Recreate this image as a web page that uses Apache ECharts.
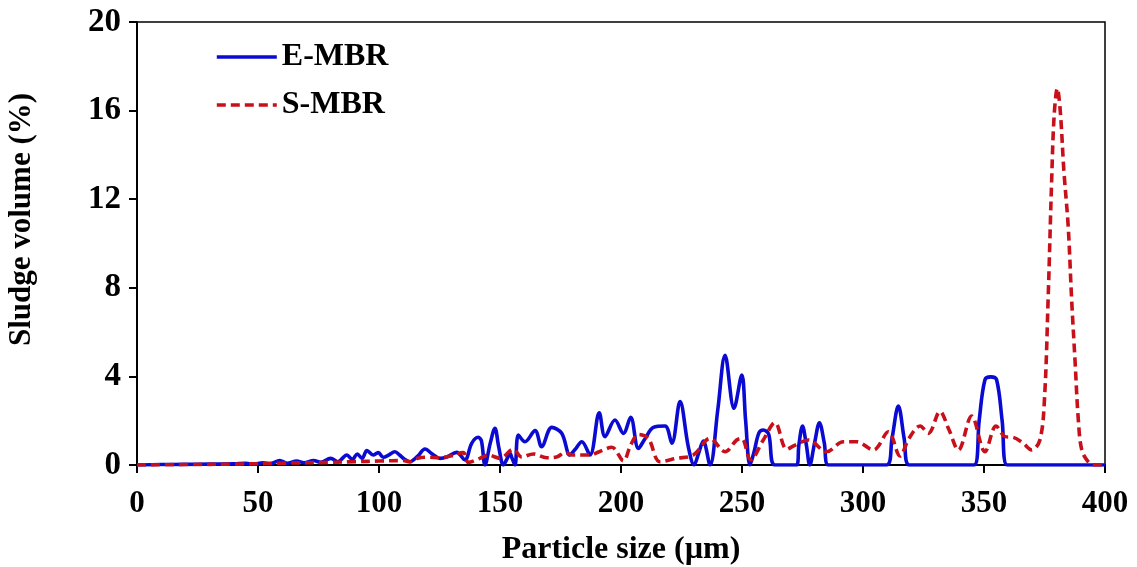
<!DOCTYPE html>
<html>
<head>
<meta charset="utf-8">
<script src="https://cdn.jsdelivr.net/npm/echarts@6/dist/echarts.min.js"></script>
<style>html,body{margin:0;padding:0;background:#fff;}#c{width:1137px;height:567px;}</style>
</head>
<body>
<div id="c"></div>
<script>
const xTicks = [0, 50, 100, 150, 200, 250, 300, 350, 400];
const yTicks = [0, 4, 8, 12, 16, 20];
const seriesNames = ['E-MBR', 'S-MBR'];
const eMBR = [
[0,0],[10,0.02],[20,0.03],[30,0.04],[40,0.05],[45,0.08],[48,0.04],[52,0.1],[55,0.06],[59,0.2],[62,0.08],[66,0.18],[69,0.1],[73,0.2],[76,0.12],[80,0.3],[83,0.15],[86.7,0.45],[89,0.25],[91,0.5],[93,0.3],[95,0.65],[97.6,0.45],[99.7,0.56],[101.8,0.35],[104,0.45],[106.6,0.6],[108.5,0.45],[110.7,0.25],[112.8,0.15],[116,0.4],[119,0.72],[122,0.5],[125.2,0.3],[128,0.36],[132.1,0.57],[135.5,0.23],[138.3,0.98],[141,1.25],[142.3,1.1],[143.8,0],[146,1.0],[147.9,1.66],[149.5,0.8],[151.4,0],[153,0.3],[154.1,0.53],[155,0.3],[156.2,0],[157.6,1.35],[160.3,1.05],[164.5,1.55],[167.2,0.83],[171.4,1.7],[175.5,1.43],[178.9,0.45],[181,0.7],[183.8,1.05],[187.2,0.45],[191,2.36],[193.4,1.28],[197.5,2.03],[201,1.43],[204,2.15],[207.2,0.75],[210,1.2],[213.4,1.7],[218.2,1.76],[221,0.98],[224.4,2.86],[227.8,0.83],[230.2,0],[232,0.5],[234,1.08],[236.8,0],[240,2.5],[243,4.95],[246.7,2.56],[249.9,4.06],[251.5,2],[253.3,0],[255,0.6],[257,1.45],[258.8,1.58],[261,1.4],[263.6,0],[272.6,0],[273.5,0.9],[275,1.76],[276.6,0.9],[278,0],[280,1.0],[282,1.91],[284,1.0],[285.7,0],[309.8,0],[312,1.2],[314.6,2.66],[317,1.2],[319.1,0],[345.9,0],[348,2],[350.4,3.85],[352.8,3.98],[355.2,3.85],[357.5,2],[359.6,0],[400,0]
];
const sMBR = [
[0,0],[20,0.02],[40,0.04],[60,0.08],[80,0.12],[90,0.15],[100,0.18],[110,0.2],[112.8,0.15],[116,0.3],[119.7,0.35],[125.2,0.33],[130,0.42],[134.8,0.56],[136.9,0.12],[141.7,0.3],[145.2,0.45],[150,0.3],[155.5,0.71],[159,0.36],[163.8,0.5],[169.3,0.33],[173.4,0.36],[176.9,0.56],[180,0.45],[187.2,0.45],[191,0.6],[196.2,0.8],[201,0.19],[204,0.9],[207.2,1.38],[211.3,1.2],[216.1,0.15],[223,0.3],[229.9,0.45],[236.8,1.2],[243,0.6],[247.8,1.13],[249.9,1.2],[253.6,0.23],[258.8,1.13],[263.6,1.91],[268.5,0.71],[272,0.9],[277.4,1.13],[285,0.6],[291.9,1.05],[297.4,1.05],[304.3,0.68],[310.5,1.5],[315.3,0.41],[319,1.2],[323.6,1.76],[327,1.43],[331.8,2.41],[335.5,1.6],[339.4,0.68],[344.9,2.21],[350.4,0.6],[355,1.76],[358.7,1.28],[362,1.25],[366,1.0],[369.7,0.68],[373.1,1.13],[375,3.0],[376.5,7.5],[378,13],[379,15.8],[380.3,17],[381.5,16],[383,13.3],[384.8,10.76],[386.2,7.5],[387.6,4.74],[389,2.0],[390.4,0.68],[393,0.15],[395.2,0],[400,0]
];

const FONT = 'Liberation Serif';
const chart = echarts.init(document.getElementById('c'), null, {renderer: 'canvas'});
chart.setOption({
  backgroundColor: '#fff',
  animation: false,
  grid: {left: 137, right: 32, top: 22, bottom: 102, show: true, borderColor: '#000', borderWidth: 1.5, backgroundColor: 'transparent', containLabel: false, outerBoundsMode: 'none'},
  legend: {
    orient: 'vertical', left: 215, top: 41, padding: 0, itemWidth: 60, itemHeight: 14, itemGap: 16,
    itemStyle: {opacity: 0},
    lineStyle: {width: 3.6},
    data: seriesNames,
    textStyle: {fontFamily: FONT, fontWeight: 'bold', fontSize: 32, color: '#000'}
  },
  xAxis: {
    type: 'value', min: xTicks[0], max: xTicks[xTicks.length-1], interval: 50,
    name: 'Particle size (µm)', nameLocation: 'middle', nameGap: 69,
    nameTextStyle: {fontFamily: FONT, fontWeight: 'bold', fontSize: 32, color: '#000'},
    axisLine: {lineStyle: {color: '#000', width: 2}},
    axisTick: {show: true, inside: false, length: 8, lineStyle: {color: '#000', width: 2}},
    axisLabel: {fontFamily: FONT, fontWeight: 'bold', fontSize: 31, color: '#000', margin: 23},
    splitLine: {show: false}
  },
  yAxis: {
    type: 'value', min: yTicks[0], max: yTicks[yTicks.length-1], interval: 4,
    name: 'Sludge volume (%)', nameLocation: 'middle', nameGap: 100, nameRotate: 90,
    nameTextStyle: {fontFamily: FONT, fontWeight: 'bold', fontSize: 31, color: '#000', padding: [0, 0, 0, 48]},
    axisLine: {lineStyle: {color: '#000', width: 2}},
    axisTick: {show: true, inside: false, length: 8, lineStyle: {color: '#000', width: 2}},
    axisLabel: {fontFamily: FONT, fontWeight: 'bold', fontSize: 33, color: '#000', margin: 16},
    splitLine: {show: false}
  },
  series: [
    {name: seriesNames[0], type: 'line', data: eMBR, smooth: 0.35, symbol: 'none', showSymbol: false,
     lineStyle: {color: '#0a0ad2', width: 3.6}, itemStyle: {color: '#0a0ad2'}},
    {name: seriesNames[1], type: 'line', data: sMBR, smooth: 0.35, symbol: 'none', showSymbol: false,
     lineStyle: {color: '#c8101a', width: 3.6, type: [9, 5]}, itemStyle: {color: '#c8101a'}}
  ]
});
</script>
</body>
</html>
